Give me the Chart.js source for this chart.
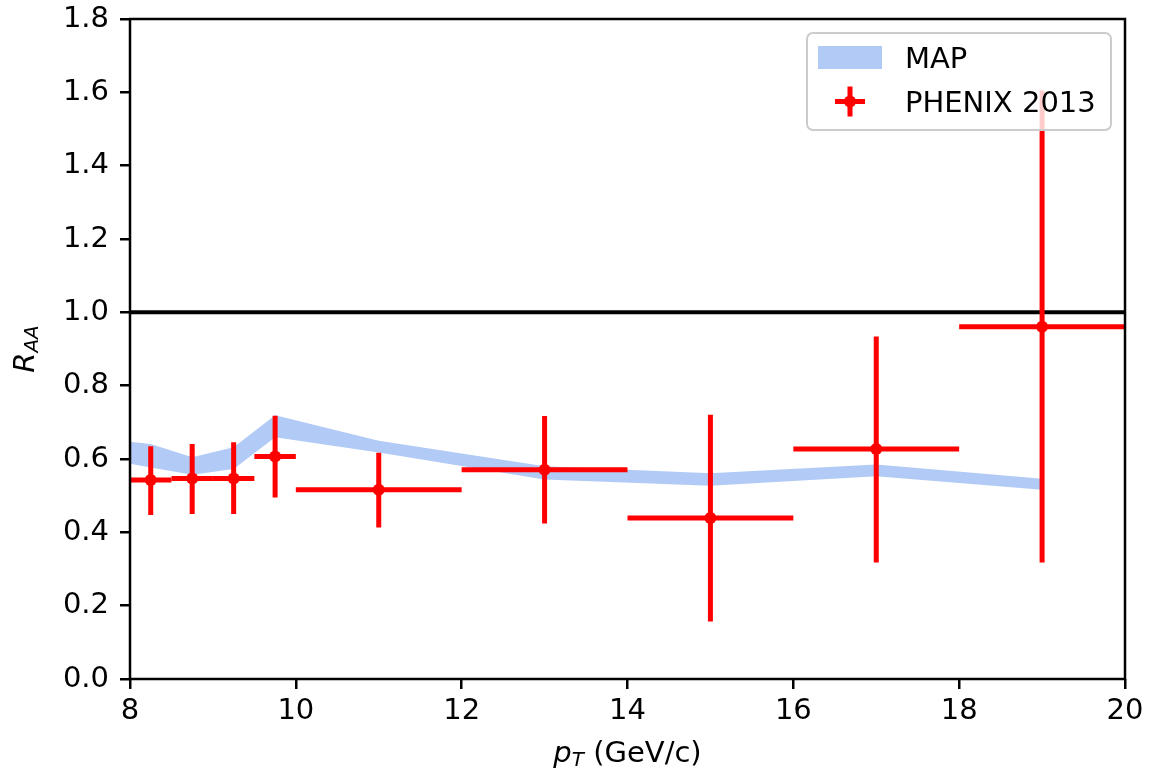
<!DOCTYPE html>
<html>
<head>
<meta charset="utf-8">
<title>R_AA vs pT</title>
<script src="https://cdn.jsdelivr.net/npm/chart.js@4.4.1/dist/chart.umd.min.js"></script>
<style>
    html, body { margin: 0; padding: 0; background: #fff; }
    #wrap { width: 1166px; height: 770px; }
</style>
</head>
<body>
<div id="wrap"><canvas id="raaChart" width="1166" height="770"></canvas></div>
<script>
// MAP band (upper / lower edge)
const mapX    = [8.0, 8.25, 8.75, 9.25, 9.75, 11, 13, 15, 17, 19];
const mapHigh = [0.647, 0.641, 0.605, 0.632, 0.719, 0.650, 0.580, 0.561, 0.585, 0.546];
const mapLow  = [0.587, 0.577, 0.557, 0.573, 0.659, 0.618, 0.544, 0.527, 0.553, 0.516];

// PHENIX 2013 points, bin edges and error bounds
const phenixX     = [8.25, 8.75, 9.25, 9.75, 11, 13, 15, 17, 19];
const phenixXLow  = [8.0, 8.5, 9.0, 9.5, 10, 12, 14, 16, 18];
const phenixXHigh = [8.5, 9.0, 9.5, 10, 12, 14, 16, 18, 20];
const phenixY     = [0.543, 0.547, 0.547, 0.607, 0.516, 0.571, 0.439, 0.627, 0.961];
const phenixYLow  = [0.447, 0.450, 0.450, 0.495, 0.413, 0.424, 0.157, 0.318, 0.318];
const phenixYHigh = [0.635, 0.641, 0.646, 0.718, 0.617, 0.717, 0.721, 0.934, 1.605];

// reference line
const unityY = 1.0;

// ticks
const xTicks = [8, 10, 12, 14, 16, 18, 20];
const yTicks = [0.0, 0.2, 0.4, 0.6, 0.8, 1.0, 1.2, 1.4, 1.6, 1.8];

const FONT = 'DejaVu Sans';
const FONT_SIZE = 29;
const BAND_COLOR = 'rgba(100, 149, 237, 0.5)';
const RED = '#ff0000';

// error bars for the PHENIX points, drawn just before the markers
const errorBarPlugin = {
    id: 'errorBars',
    beforeDatasetDraw(chart, args) {
        if (chart.data.datasets[args.index].label !== 'PHENIX 2013') return;
        const { ctx, scales: { x, y }, chartArea } = chart;
        ctx.save();
        ctx.beginPath();
        ctx.rect(chartArea.left, chartArea.top, chartArea.right - chartArea.left, chartArea.bottom - chartArea.top);
        ctx.clip();
        ctx.strokeStyle = RED;
        ctx.lineWidth = 5;
        ctx.lineCap = 'butt';
        phenixX.forEach((px, i) => {
            const cx = x.getPixelForValue(px);
            const cy = y.getPixelForValue(phenixY[i]);
            ctx.beginPath();
            ctx.moveTo(x.getPixelForValue(phenixXLow[i]), cy);
            ctx.lineTo(x.getPixelForValue(phenixXHigh[i]), cy);
            ctx.moveTo(cx, y.getPixelForValue(phenixYLow[i]));
            ctx.lineTo(cx, y.getPixelForValue(phenixYHigh[i]));
            ctx.stroke();
        });
        ctx.restore();
    }
};

// spines, axis titles (with subscripts) and matplotlib-like legend
const framePlugin = {
    id: 'frame',
    afterDraw(chart) {
        const { ctx, chartArea: a } = chart;
        ctx.save();

        // spines
        ctx.strokeStyle = '#000';
        ctx.lineWidth = 2.5;
        ctx.strokeRect(a.left, a.top, a.right - a.left, a.bottom - a.top);

        // x title: p_T (GeV/c)
        ctx.fillStyle = '#000';
        ctx.textBaseline = 'alphabetic';
        ctx.textAlign = 'left';
        const big = FONT_SIZE, small = Math.round(FONT_SIZE * 0.7);
        ctx.font = `italic ${big}px "${FONT}"`;
        const wP = ctx.measureText('p').width;
        ctx.font = `italic ${small}px "${FONT}"`;
        const wT = ctx.measureText('T').width;
        ctx.font = `${big}px "${FONT}"`;
        const rest = ' (GeV/c)';
        const wR = ctx.measureText(rest).width;
        let tx = (a.left + a.right) / 2 - (wP + wT + wR) / 2;
        const ty = 762;
        ctx.font = `italic ${big}px "${FONT}"`;
        ctx.fillText('p', tx, ty);
        tx += wP;
        ctx.font = `italic ${small}px "${FONT}"`;
        ctx.fillText('T', tx, ty + 4);
        tx += wT;
        ctx.font = `${big}px "${FONT}"`;
        ctx.fillText(rest, tx, ty);

        // y title: R_AA
        ctx.save();
        ctx.translate(34, (a.top + a.bottom) / 2);
        ctx.rotate(-Math.PI / 2);
        ctx.font = `italic ${big}px "${FONT}"`;
        const wRr = ctx.measureText('R').width;
        ctx.font = `italic ${small}px "${FONT}"`;
        const wAA = ctx.measureText('AA').width;
        let ry = -(wRr + wAA) / 2;
        ctx.font = `italic ${big}px "${FONT}"`;
        ctx.fillText('R', ry, 0);
        ry += wRr;
        ctx.font = `italic ${small}px "${FONT}"`;
        ctx.fillText('AA', ry, 4);
        ctx.restore();

        // legend
        const lx = 807, ly = 33, lw = 304, lh = 97, r = 6;
        ctx.beginPath();
        ctx.roundRect(lx, ly, lw, lh, r);
        ctx.fillStyle = 'rgba(255, 255, 255, 0.8)';
        ctx.fill();
        ctx.strokeStyle = '#cccccc';
        ctx.lineWidth = 2;
        ctx.stroke();

        ctx.fillStyle = BAND_COLOR;
        ctx.fillRect(818, 46, 64, 23);

        ctx.strokeStyle = RED;
        ctx.lineWidth = 5;
        ctx.beginPath();
        ctx.moveTo(835, 101.5); ctx.lineTo(865, 101.5);
        ctx.moveTo(850, 86.5); ctx.lineTo(850, 116.5);
        ctx.stroke();
        ctx.fillStyle = RED;
        ctx.beginPath();
        ctx.arc(850, 101.5, 6, 0, Math.PI * 2);
        ctx.fill();

        ctx.fillStyle = '#000';
        ctx.font = `${big}px "${FONT}"`;
        ctx.fillText('MAP', 905, 68);
        ctx.fillText('PHENIX 2013', 905, 112);

        ctx.restore();
    }
};

const tickStyle = {
    color: '#000',
    font: { family: FONT, size: FONT_SIZE },
    autoSkip: false,
    maxRotation: 0
};
const gridStyle = {
    drawOnChartArea: false,
    drawTicks: true,
    tickLength: 10,
    color: '#000',
    lineWidth: 2.5
};

document.addEventListener('DOMContentLoaded', () => {
    const ctx = document.getElementById('raaChart');
    new Chart(ctx, {
        type: 'scatter',
        data: {
            datasets: [
                {
                    label: 'MAP',
                    data: mapX.map((v, i) => ({ x: v, y: mapHigh[i] })),
                    showLine: true,
                    borderColor: 'rgba(0,0,0,0)',
                    borderWidth: 1,
                    pointRadius: 0,
                    backgroundColor: BAND_COLOR,
                    fill: '+1',
                    order: 3
                },
                {
                    label: 'MAP low',
                    data: mapX.map((v, i) => ({ x: v, y: mapLow[i] })),
                    showLine: true,
                    borderColor: 'rgba(0,0,0,0)',
                    borderWidth: 1,
                    pointRadius: 0,
                    fill: false,
                    order: 3
                },
                {
                    label: 'unity',
                    data: [{ x: xTicks[0], y: unityY }, { x: xTicks[xTicks.length - 1], y: unityY }],
                    showLine: true,
                    borderColor: '#000',
                    borderWidth: 4,
                    pointRadius: 0,
                    fill: false,
                    order: 2
                },
                {
                    label: 'PHENIX 2013',
                    data: phenixX.map((v, i) => ({ x: v, y: phenixY[i] })),
                    pointRadius: 6,
                    pointBackgroundColor: RED,
                    pointBorderWidth: 0,
                    pointBorderColor: RED,
                    order: 1
                }
            ]
        },
        options: {
            responsive: false,
            animation: false,
            layout: { padding: { top: 19, right: 41, left: 0, bottom: 0 } },
            plugins: {
                legend: { display: false },
                tooltip: { enabled: false }
            },
            scales: {
                x: {
                    type: 'linear',
                    min: 8,
                    max: 20,
                    afterBuildTicks: s => { s.ticks = xTicks.map(v => ({ value: v })); },
                    afterFit: s => { s.height = 91; s.paddingLeft = 0; s.paddingRight = 0; },
                    grid: gridStyle,
                    border: { display: false },
                    ticks: { ...tickStyle, padding: 5, callback: v => String(v) }
                },
                y: {
                    type: 'linear',
                    min: 0,
                    max: 1.8,
                    afterBuildTicks: s => { s.ticks = yTicks.map(v => ({ value: v })); },
                    afterFit: s => { s.width = 130; s.paddingTop = 0; s.paddingBottom = 0; },
                    grid: gridStyle,
                    border: { display: false },
                    ticks: { ...tickStyle, padding: 11, callback: v => Number(v).toFixed(1) }
                }
            }
        },
        plugins: [errorBarPlugin, framePlugin]
    });
});
</script>
</body>
</html>
